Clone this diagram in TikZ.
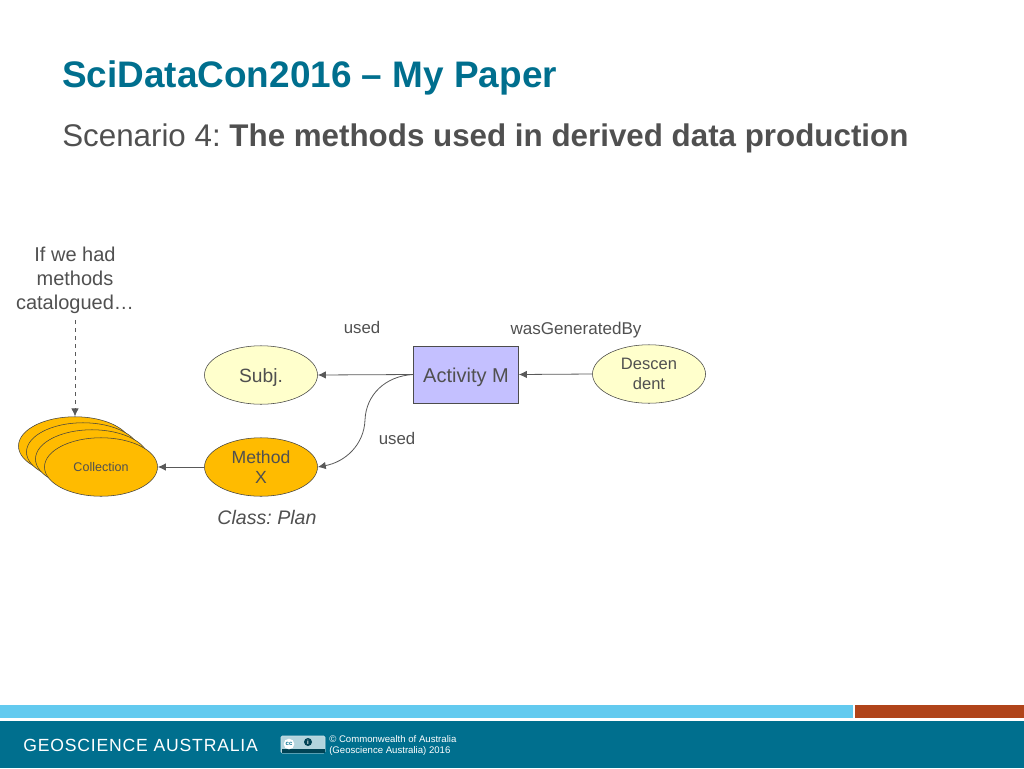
\documentclass[tikz,border=0pt]{standalone}
\usepackage{fontspec}
\setmainfont{Liberation Sans}
\usetikzlibrary{shapes.geometric, arrows.meta}
\definecolor{tealbar}{HTML}{006F8E}
\definecolor{skybar}{HTML}{63CAEF}
\definecolor{rustbar}{HTML}{B0441A}
\definecolor{inktext}{HTML}{505050}
\definecolor{paleyellow}{HTML}{FFFFCC}
\definecolor{goldfill}{HTML}{FFBB00}
\definecolor{lilac}{HTML}{C4C0FF}
\newlength{\pxu}
\setlength{\pxu}{0.75pt}
\tikzset{
    entity/.style={ellipse, draw=black!75, fill=paleyellow, text=inktext, minimum width=113\pxu, minimum height=58.5\pxu, inner sep=0pt, align=center, font=\fontsize{13.2}{15}\selectfont},
    plan/.style={entity, fill=goldfill},
    activity/.style={rectangle, draw=black!70, fill=lilac, text=inktext, minimum width=105\pxu, minimum height=57\pxu, inner sep=0pt, font=\fontsize{15}{18}\selectfont},
    relation/.style={text=inktext, inner sep=0pt, font=\fontsize{12.6}{15}\selectfont},
    link/.style={-{Latex[length=6pt, width=5.5pt]}, draw=black!65, line width=0.6pt},
}
\begin{document}
\frenchspacing
\begin{tikzpicture}[x=0.75pt, y=-0.75pt]
    \useasboundingbox (0, 0) rectangle (1024, 768);
    % Footer bands
    \fill[skybar] (0, 705) rectangle (853, 718);
    \fill[rustbar] (855, 705) rectangle (1024, 718);
    \fill[tealbar] (0, 721) rectangle (1024, 768);

    % Headings
    \node[anchor=west, inner sep=0pt, text=tealbar, font=\fontsize{27.7}{32}\bfseries\selectfont] (title) at (62, 78) {SciDataCon2016 -- My Paper};
    \node[anchor=west, inner sep=0pt, text=inktext, font=\fontsize{23.5}{27}\selectfont] (subtitle) at (62, 138) {Scenario 4: \textbf{The methods used in derived data production}};

    % Collection stack, back to front
    \foreach \x/\y/\n in {75/446/a, 83/452/b, 92/459/c}
        \node[plan] (coll\n) at (\x, \y) {};
    \node[plan, font=\fontsize{9.4}{11}\selectfont] (collection) at (101, 467) {Collection};

    % Nodes
    \node[entity] (subj) at (261, 375) {\raisebox{0pt}[11.4pt][0pt]{\fontsize{14.4}{17}\selectfont Subj.}};
    \node[activity] (activity) at (466, 374.5) {\raisebox{0pt}[12pt][0pt]{Activity M}};
    \node[entity, font=\fontsize{12.4}{15}\selectfont] (descendent) at (649, 374) {Descen\\dent};
    \node[plan] (method) at (261, 467) {Method\\X};
    \node[relation, align=center, font=\fontsize{15}{18}\selectfont] (note) at (75, 280.5) {If we had\\methods\\catalogued…};
    \coordinate (notefoot) at (75, 320);

    % Labels
    \node[relation] (usedtop) at (362, 327.5) {used};
    \node[relation, font=\fontsize{12.8}{15}\selectfont] (generated) at (576, 330) {wasGeneratedBy};
    \node[relation] (usedlow) at (397, 438) {used};
    \node[text=inktext, inner sep=0pt, font=\fontsize{14.7}{17}\itshape\selectfont] (plantype) at (267, 517) {Class: Plan};

    % Connectors
    \draw[link] (activity.west) -- (subj.east);
    \draw[link] (descendent.west) -- (activity.east);
    \draw[link] (activity.west) .. controls (385, 376) and (366, 395) .. (365, 420) .. controls (364, 445) and (345, 462) .. (method.east);
    \draw[link] (method.west) -- (collection.east);
    \draw[link, dashed] (notefoot) -- (colla.north);

    % Footer text
    \node[anchor=west, inner sep=0pt, text=white, font=\fontsize{13.2}{15}\selectfont\addfontfeature{LetterSpace=4.6}] (agency) at (23, 745) {GEOSCIENCE AUSTRALIA};
    \draw[rounded corners=1pt, fill=white!70!tealbar, draw=white!80!tealbar] (281, 736) rectangle (325, 753);
    \fill[tealbar!60!black] (281.5, 749) rectangle (324.5, 752.5);
    \node[circle, fill=white, text=tealbar, inner sep=0pt, minimum size=8pt, font=\fontsize{4.5}{5}\bfseries\selectfont] (ccmark) at (289, 744) {cc};
    \node[circle, fill=tealbar!60!black, text=white, inner sep=0pt, minimum size=6pt, font=\fontsize{4.5}{5}\bfseries\selectfont] (bymark) at (308, 742) {i};
    \node[anchor=west, inner sep=0pt, text=white, align=left, font=\fontsize{7.2}{8.2}\selectfont] (rights) at (329, 745.5) {© Commonwealth of Australia\\(Geoscience Australia) 2016};
\end{tikzpicture}
\end{document}
